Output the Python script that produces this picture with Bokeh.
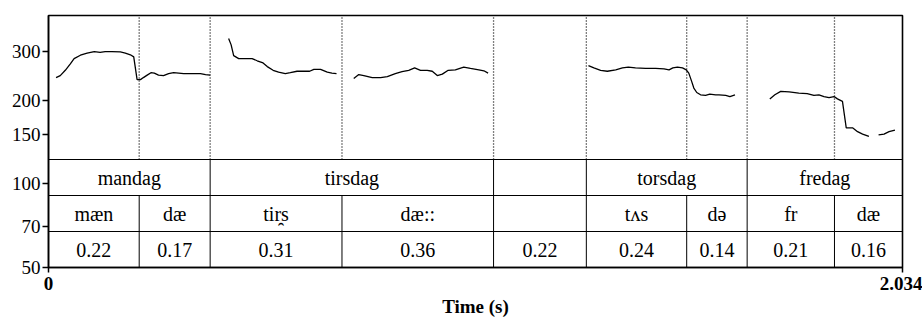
import numpy as np
from bokeh.plotting import figure
from bokeh.models import Range1d, LinearScale, FixedTicker, PrintfTickFormatter
from bokeh.embed import file_html
from bokeh.resources import INLINE
from bokeh.core.properties import value

# ---- pitch contour segments (time s, F0 Hz) ----
seg1_t = [0.018, 0.028, 0.040, 0.052, 0.061, 0.076, 0.092, 0.109, 0.123, 0.135, 0.151, 0.171, 0.183,
          0.195, 0.203, 0.211, 0.219, 0.226, 0.235, 0.244, 0.252, 0.262, 0.274, 0.286, 0.298, 0.322,
          0.346, 0.362, 0.374, 0.385]
seg1_f = [241, 245, 256, 270, 282, 290, 295, 299, 297, 299, 299, 298, 295,
          291, 286, 237, 237, 241, 246, 251, 250, 246, 245, 249, 251, 249,
          249, 249, 247, 246]
seg2_t = [0.429, 0.435, 0.441, 0.453, 0.469, 0.485, 0.497, 0.511, 0.521, 0.535, 0.548, 0.564, 0.576,
          0.592, 0.608, 0.622, 0.632, 0.648, 0.664, 0.675, 0.686]
seg2_f = [333, 316, 289, 282, 282, 282, 277, 272, 264, 256, 252, 249, 251,
          254, 254, 254, 258, 258, 252, 250, 249]
seg3_t = [0.727, 0.739, 0.751, 0.771, 0.791, 0.807, 0.826, 0.842, 0.858, 0.872, 0.886, 0.902, 0.914,
          0.926, 0.938, 0.952, 0.969, 0.989, 1.005, 1.025, 1.037, 1.047]
seg3_f = [239, 247, 245, 241, 241, 243, 249, 253, 256, 261, 256, 256, 254,
          245, 248, 256, 257, 263, 260, 257, 255, 250]
seg4_t = [1.286, 1.299, 1.315, 1.331, 1.351, 1.367, 1.381, 1.398, 1.422, 1.446, 1.466, 1.478, 1.487,
          1.498, 1.510, 1.519, 1.525, 1.532, 1.537, 1.544, 1.553, 1.565, 1.575, 1.589, 1.597, 1.613,
          1.623, 1.635]
seg4_f = [266, 261, 256, 254, 257, 261, 263, 261, 260, 260, 259, 257, 261,
          263, 261, 257, 250, 233, 221, 213, 209, 208, 210, 209, 209, 208,
          206, 209]
seg5_t = [1.718, 1.730, 1.744, 1.764, 1.787, 1.807, 1.823, 1.835, 1.847, 1.859, 1.871, 1.879, 1.891,
          1.900, 1.915, 1.927, 1.939, 1.954]
seg5_f = [202, 209, 215, 214, 212, 211, 208, 209, 206, 204, 206, 202, 198,
          159, 159, 154, 151, 148]
seg6_t = [1.977, 1.990, 2.002, 2.016]
seg6_f = [150, 151, 154, 156]

# ---- annotation tiers ----
syll_bounds = [0, 0.216, 0.385, 0.699, 1.060, 1.281, 1.520, 1.664, 1.872, 2.034]
word_bounds = [0, 0.385, 1.060, 1.281, 1.664, 2.034]
word_labels = ["mandag", "tirsdag", "", "torsdag", "fredag"]
syll_labels = ["mæn", "dæ", "tir̯s", "dæ::", "", "tʌs", "də", "fr", "dæ"]
dur_labels = ["0.22", "0.17", "0.31", "0.36", "0.22", "0.24", "0.14", "0.21", "0.16"]

# ---- axes ----
y_ticks = [50, 70, 100, 150, 200, 300]
x_ticks = [0, 2.034]
x_tick_labels = ["0", "2.034"]
x_title = "Time (s)"

FONT = "'Liberation Serif', 'Times New Roman', Times, serif"
FS = "19px"
FS_TIER = "20px"

p = figure(width=922, height=320, x_range=Range1d(0, 2.034), y_range=Range1d(50, 403),
           y_axis_type="log", output_backend="svg", toolbar_location=None,
           min_border_left=48, min_border_right=20, min_border_top=15, min_border_bottom=53)
p.extra_y_ranges = {"tier": Range1d(0, 7)}
p.extra_y_scales = {"tier": LinearScale()}
p.grid.visible = False
p.outline_line_color = "black"
p.outline_line_width = 1.6
p.background_fill_color = "white"
p.border_fill_color = "white"

ya = p.yaxis[0]
ya.ticker = FixedTicker(ticks=y_ticks, minor_ticks=[])
ya.formatter = PrintfTickFormatter(format="%d")
ya.major_label_text_font = FONT
ya.major_label_text_font_size = FS
ya.major_label_text_color = "black"
ya.major_tick_out = 6
ya.major_tick_in = 0
ya.minor_tick_out = 0
ya.minor_tick_in = 0
ya.major_label_standoff = 2
ya.axis_line_color = "black"
ya.axis_line_width = 1.5
ya.major_tick_line_color = "black"
ya.major_tick_line_width = 1.5

xa = p.xaxis[0]
xa.ticker = FixedTicker(ticks=x_ticks, minor_ticks=[])
xa.major_label_overrides = {t: s for t, s in zip(x_ticks, x_tick_labels)}
xa.major_label_text_font = FONT
xa.major_label_text_font_size = FS
xa.major_label_text_font_style = "bold"
xa.major_label_text_color = "black"
xa.major_tick_out = 5
xa.major_tick_in = 0
xa.minor_tick_out = 0
xa.minor_tick_in = 0
xa.major_label_standoff = 4
xa.axis_label = x_title
xa.axis_label_text_font = FONT
xa.axis_label_text_font_size = FS
xa.axis_label_text_font_style = "bold"
xa.axis_label_text_color = "black"
xa.axis_label_standoff = 3
xa.axis_line_color = "black"
xa.axis_line_width = 1.5
xa.major_tick_line_color = "black"
xa.major_tick_line_width = 1.5

# ---- pitch contour ----
p.multi_line(xs=[seg1_t, seg2_t, seg3_t, seg4_t, seg5_t, seg6_t],
             ys=[seg1_f, seg2_f, seg3_f, seg4_f, seg5_f, seg6_f],
             line_color="black", line_width=1.3)

# ---- tier grid ----
inner = syll_bounds[1:-1]
winner = word_bounds[1:-1]
p.segment(x0=inner, y0=[3] * len(inner), x1=inner, y1=[7] * len(inner), y_range_name="tier",
          line_color="black", line_width=1.3, line_dash="1 2")
p.segment(x0=inner, y0=[0] * len(inner), x1=inner, y1=[2] * len(inner), y_range_name="tier",
          line_color="black", line_width=1)
p.segment(x0=winner, y0=[2] * len(winner), x1=winner, y1=[3] * len(winner), y_range_name="tier",
          line_color="black", line_width=1)
p.segment(x0=[0, 0, 0], y0=[1, 2, 3], x1=[2.034] * 3, y1=[1, 2, 3], y_range_name="tier",
          line_color="black", line_width=1)

sb = np.array(syll_bounds)
wb = np.array(word_bounds)
smid = list((sb[:-1] + sb[1:]) / 2)
wmid = list((wb[:-1] + wb[1:]) / 2)

common = dict(text_align="center", text_baseline="middle", text_font=value(FONT),
              text_font_size=FS_TIER, text_color="black", y_range_name="tier")
p.text(x=wmid, y=[2.5] * len(wmid), text=word_labels, **common)
p.text(x=smid, y=[1.5] * len(smid), text=syll_labels, **common)
p.text(x=smid, y=[0.5] * len(smid), text=dur_labels, **common)

open("out.html", "w").write(file_html(p, INLINE))
